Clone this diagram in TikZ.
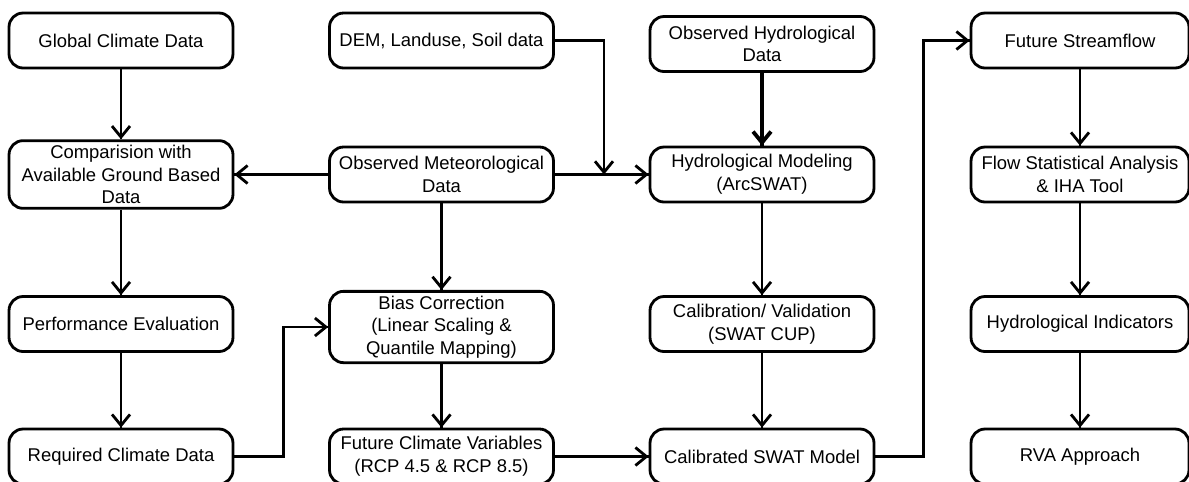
\documentclass[tikz,border=0pt]{standalone}
\usepackage{fontspec}
\setmainfont{Liberation Sans}
\usetikzlibrary{arrows.meta,
                decorations.markings}

\begin{document}
\begin{tikzpicture}[x=0.02cm, y=-0.02cm,
       decoration = {markings,
                     mark=at position 1 with {\arrow{Straight Barb[length=2.2mm, width=3.6mm]}}},
       blk/.style = {draw, line width=1.6pt, rounded corners=2.8mm,
                     minimum width=4.48cm, minimum height=1.1cm,
                     inner xsep=2pt, inner ysep=2.5pt, align=center,
                     font=\fontsize{10.5}{12.9}\selectfont},
     elbow/.style = {to path={-- ++(#1,0) |- (\tikztotarget)}},
    downto/.style = {to path={-| (\tikztotarget)}},
every edge/.style = {draw, line width=1.6pt, postaction=decorate}
                        ]
\useasboundingbox (0,0) rectangle (1189,481);
\node (glob_c) at (121,40.5) [blk] {Global Climate Data};
\node (dem_l) at (441.5,40.5) [blk] {DEM, Landuse, Soil data};
\node (obs_h) at (762,44) [blk] {Observed Hydrological\\Data};
\node (fut_s) at (1080,40.5) [blk, minimum width=4.36cm] {Future Streamflow};
\node (comp_g) at (121,174.5) [blk] {Comparision with\\Available Ground Based\\Data};
\node (obs_m) at (441.5,174.5) [blk] {Observed Meteorological\\Data};
\node (hyd_m) at (762,174.5) [blk] {Hydrological Modeling\\(ArcSWAT)};
\node (flow_s) at (1080,174.5) [blk, minimum width=4.36cm] {Flow Statistical Analysis\\\& IHA Tool};
\node (perf_e) at (121,324) [blk] {Performance Evaluation};
\node (bias_c) at (441.5,327) [blk] {Bias Correction\\(Linear Scaling \&\\Quantile Mapping)};
\node (cal_v) at (762,324) [blk] {Calibration/ Validation\\(SWAT CUP)};
\node (hyd_i) at (1080,324) [blk, minimum width=4.36cm] {Hydrological Indicators};
\node (req_c) at (121,456.5) [blk] {Required Climate Data};
\node (fut_c) at (441.5,456.5) [blk] {Future Climate Variables\\(RCP 4.5 \& RCP 8.5)};
\node (cal_s) at (762,456.5) [blk] {Calibrated SWAT Model};
\node (rva) at (1080,456.5) [blk, minimum width=4.36cm] {RVA Approach};
\coordinate (jn) at (604,174.5);

%

\path   (glob_c) edge (comp_g)
        (obs_m) edge (comp_g)
        (comp_g) edge (perf_e)
        (perf_e) edge (req_c)
        (req_c.east) edge[elbow=49] (bias_c.west)
        (obs_m) edge (bias_c)
        (bias_c) edge (fut_c)
        (fut_c) edge (cal_s)
        (obs_m) edge (hyd_m)
        (dem_l.east) edge[downto] (jn)
        (obs_h) edge[line width=2.2pt] (hyd_m)
        (hyd_m) edge (cal_v)
        (cal_v) edge (cal_s)
        (cal_s.east) edge[elbow=48] (fut_s.west)
        (fut_s) edge (flow_s)
        (flow_s) edge (hyd_i)
        (hyd_i) edge (rva);
    \end{tikzpicture}
\end{document}
